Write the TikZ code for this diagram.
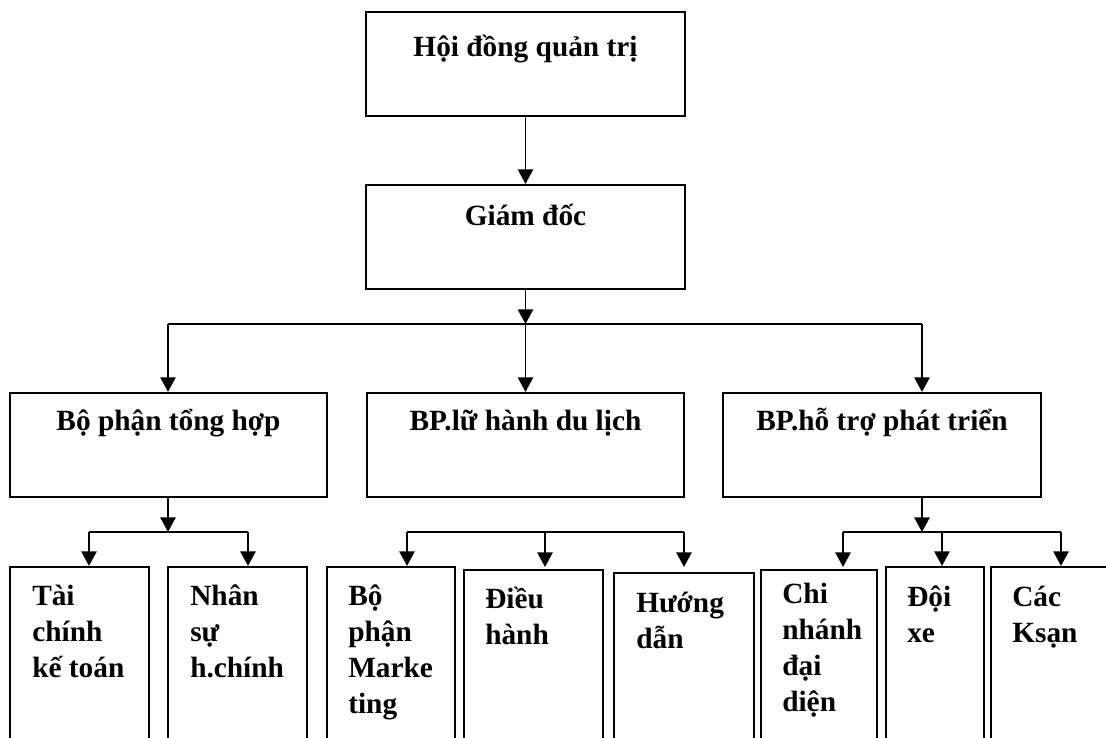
\documentclass[tikz,border=0pt]{standalone}
\usepackage{fontspec}
\setmainfont{Liberation Serif}
\usetikzlibrary{arrows.meta,fit,calc}
\newcommand{\mlines}[1]{\parbox[t]{5cm}{\raggedright #1}}
\begin{document}
\begin{tikzpicture}[x=0.75pt,y=-0.75pt,
  box/.style={draw, line width=1.6pt, inner sep=0pt},
  conn/.style={line width=1.45pt},
  arr/.style={conn, -{Triangle[width=11.5pt,length=11pt]}},
  lbl/.style={font=\fontsize{22}{27.2}\selectfont\bfseries, inner sep=0pt}]
\clip (0,0) rectangle (1106,738);
% boxes
\node[box, fit={(366,12) (685,116)}] (hdqt) {};
\node[box, fit={(366,185) (685,289)}] (gd) {};
\node[box, fit={(10,393) (327,497)}] (bpth) {};
\node[box, fit={(367,393) (684,497)}] (bplh) {};
\node[box, fit={(723,393) (1041,497)}] (bpht) {};
\node[box, fit={(10,567) (149,770)}] (tckt) {};
\node[box, fit={(168,567) (307,770)}] (nshc) {};
\node[box, fit={(327,567) (455,770)}] (mkt) {};
\node[box, fit={(464,570) (603,770)}] (dh) {};
\node[box, fit={(614,573) (754,770)}] (hd) {};
\node[box, fit={(761,570) (877,770)}] (cn) {};
\node[box, fit={(886,567) (984,770)}] (dx) {};
\node[box, fit={(991,567) (1130,770)}] (ks) {};
% labels
\node[lbl, anchor=base] at ($(hdqt.north)+(0,46)$) {Hội đồng quản trị};
\node[lbl, anchor=base] at ($(gd.north)+(0,42)$) {Giám đốc};
\node[lbl, anchor=base] at ($(bpth.north)+(0,39)$) {Bộ phận tổng hợp};
\node[lbl, anchor=base] at ($(bplh.north)+(0,39)$) {BP.lữ hành du lịch};
\node[lbl, anchor=base] at ($(bpht.north)+(0,39)$) {BP.hỗ trợ phát triển};
\node[lbl, anchor=base west] at (32,605) {\mlines{Tài\\chính\\kế toán}};
\node[lbl, anchor=base west] at (190,605) {\mlines{Nhân\\sự\\h.chính}};
\node[lbl, anchor=base west] at (348,605) {\mlines{Bộ\\phận\\Marke\\ting}};
\node[lbl, anchor=base west] at (485,608) {\mlines{Điều\\hành}};
\node[lbl, anchor=base west] at (636,612) {\mlines{Hướng\\dẫn}};
\node[lbl, anchor=base west] at (782,603) {\mlines{Chi\\nhánh\\đại\\diện}};
\node[lbl, anchor=base west] at (907,606) {\mlines{Đội\\xe}};
\node[lbl, anchor=base west] at (1012,606) {\mlines{Các\\Ksạn}};
% connectors, top
\draw[arr] (hdqt.south) -- (gd.north);
\coordinate (j0) at (525.5,324);
\coordinate (jl) at (168,324);
\coordinate (jr) at (922,324);
\draw[arr] (gd.south) -- (j0);
\draw[conn] (jl) -- (jr);
\draw[arr] (jl) -- (jl |- bpth.north);
\draw[arr] (j0) -- (bplh.north);
\draw[arr] (jr) -- (jr |- bpht.north);
% left group
\coordinate (k1) at (168,532);
\coordinate (k1a) at (89,532);
\coordinate (k1b) at (248,532);
\draw[arr] (k1 |- bpth.south) -- (k1);
\draw[conn] (k1a) -- (k1b);
\draw[arr] (k1a) -- (k1a |- tckt.north);
\draw[arr] (k1b) -- (k1b |- nshc.north);
% middle group
\coordinate (k2a) at (407,532);
\coordinate (k2b) at (545,532);
\coordinate (k2c) at (684,532);
\coordinate (e2b) at (545,567);
\coordinate (e2c) at (684,567);
\draw[conn] (k2a) -- (k2c);
\draw[arr] (k2a) -- (k2a |- mkt.north);
\draw[arr] (k2b) -- (e2b);
\draw[arr] (k2c) -- (e2c);
% right group
\coordinate (k3) at (922,532);
\coordinate (k3a) at (843,532);
\coordinate (k3b) at (942,532);
\coordinate (k3c) at (1061,532);
\coordinate (e3a) at (843,567);
\draw[arr] (k3 |- bpht.south) -- (k3);
\draw[conn] (k3a) -- (k3c);
\draw[arr] (k3a) -- (e3a);
\draw[arr] (k3b) -- (k3b |- dx.north);
\draw[arr] (k3c) -- (k3c |- ks.north);
\end{tikzpicture}
\end{document}
